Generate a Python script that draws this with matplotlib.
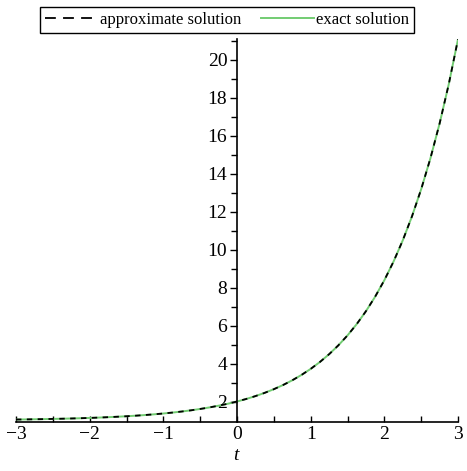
import matplotlib
matplotlib.use('Agg')
import matplotlib.pyplot as plt

plt.rcParams['font.family'] = ['Liberation Serif', 'DejaVu Serif']

# values
t = [-3.0, -2.875, -2.75, -2.625, -2.5, -2.375, -2.25, -2.125, -2.0, -1.875,
     -1.75, -1.625, -1.5, -1.375, -1.25, -1.125, -1.0, -0.875, -0.75, -0.625,
     -0.5, -0.375, -0.25, -0.125, 0.0, 0.125, 0.25, 0.375, 0.5, 0.625,
     0.75, 0.875, 1.0, 1.125, 1.25, 1.375, 1.5, 1.625, 1.75, 1.875,
     2.0, 2.125, 2.25, 2.375, 2.5, 2.625, 2.75, 2.875, 3.0]
y_exact = [1.050, 1.056, 1.064, 1.072, 1.082, 1.093, 1.105, 1.119, 1.135, 1.153,
           1.174, 1.197, 1.223, 1.253, 1.287, 1.325, 1.368, 1.417, 1.472, 1.535,
           1.607, 1.687, 1.779, 1.882, 2.000, 2.133, 2.284, 2.455, 2.649, 2.868,
           3.117, 3.399, 3.718, 4.080, 4.490, 4.955, 5.482, 6.078, 6.755, 7.521,
           8.389, 9.373, 10.488, 11.751, 13.183, 14.805, 16.643, 18.725, 21.086]
y_approx = [1.050, 1.056, 1.064, 1.072, 1.082, 1.093, 1.105, 1.119, 1.135, 1.153,
            1.174, 1.197, 1.223, 1.253, 1.287, 1.325, 1.368, 1.417, 1.472, 1.535,
            1.607, 1.687, 1.779, 1.882, 2.000, 2.133, 2.284, 2.455, 2.649, 2.868,
            3.117, 3.399, 3.718, 4.080, 4.490, 4.955, 5.482, 6.078, 6.755, 7.521,
            8.389, 9.373, 10.488, 11.751, 13.183, 14.805, 16.643, 18.725, 21.086]

x_ticks = [-3, -2, -1, 0, 1, 2, 3]
x_labels = ['\u22123', '\u22122', '\u22121', '0', '1', '2', '3']
x_minor = [-2.5, -1.5, -0.5, 0.5, 1.5, 2.5]
y_ticks = [2, 4, 6, 8, 10, 12, 14, 16, 18, 20]
y_minor = [3, 5, 7, 9, 11, 13, 15, 17, 19, 21]

fig = plt.figure(figsize=(4.67, 4.71), dpi=100)
ax = fig.add_axes([16/467, 1 - 422/471, 442/467, 383/471])

ax.plot(t, y_exact, color='#72cc72', lw=1.4, label='exact solution', zorder=2)
ax.plot(t, y_approx, color='black', lw=1.3, dashes=(3, 3),
        label='approximate solution', zorder=3)

ax.set_xlim(-3, 3)
ax.set_ylim(0.92, 21.1)

for s in ['top', 'right']:
    ax.spines[s].set_visible(False)
ax.spines['left'].set_position(('data', 0))
ax.spines['left'].set_linewidth(1.2)
ax.spines['bottom'].set_linewidth(1.2)

ax.set_xticks(x_ticks)
ax.set_xticklabels(x_labels)
ax.set_xticks(x_minor, minor=True)
ax.set_yticks(y_ticks)
ax.set_yticks(y_minor, minor=True)

ax.tick_params(axis='x', which='both', direction='in', length=4, width=1,
               labelsize=14, pad=3)
ax.tick_params(axis='y', which='major', direction='out', length=5, width=1,
               labelsize=14, pad=2)
ax.tick_params(axis='y', which='minor', direction='out', length=4, width=1)

fig.text(236/467, 1 - 456/471, 't', fontsize=14, style='italic',
         ha='center', va='center')

handles, labels = ax.get_legend_handles_labels()
leg = fig.legend(handles[::-1], labels[::-1], loc='center',
                 bbox_to_anchor=(227/467, 1 - 20/471), ncol=2,
                 fancybox=False, edgecolor='black', framealpha=1,
                 fontsize=12, handlelength=3.2, handletextpad=0.1,
                 columnspacing=1.2, borderpad=0.3, borderaxespad=0)
leg.get_frame().set_linewidth(1.0)
leg.get_lines()[0].set_dashes((6, 4))

fig.savefig('out.png', dpi=100)
